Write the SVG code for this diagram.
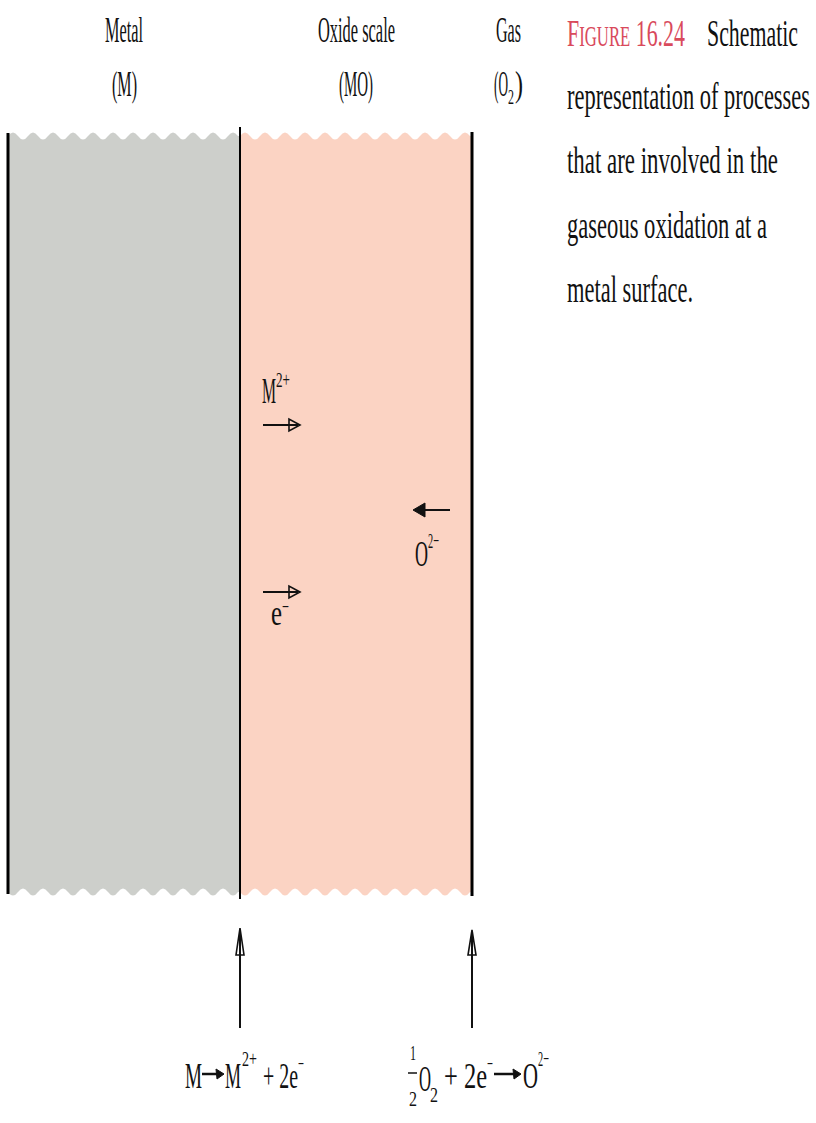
<svg xmlns="http://www.w3.org/2000/svg" width="816" height="1123" viewBox="0 0 816 1123">
<style>
  text { font-family: "Liberation Serif", "Times New Roman", serif; fill: #111; }
  .lbl { font-size: 36px; }
  .cap { font-size: 38px; }
  .sup { font-size: 22px; }
  .eq { font-size: 36px; }
  .edge { stroke: #000; fill: none; }
  .arr { stroke: #111; stroke-width: 2; fill: none; }
  .hollow { stroke: #111; stroke-width: 1.6; fill: #fff; }
  .solid { fill: #111; stroke: #111; stroke-width: 1; }
</style>
<rect width="816" height="1123" fill="#fff"/>

<g id="metal">
  <path fill="#cdcfcb" d="M8,136 q5,-7 10,0 t10,0 t10,0 t10,0 t10,0 t10,0 t10,0 t10,0 t10,0 t10,0 t10,0 t10,0 t10,0 t10,0 t10,0 t10,0 t10,0 t10,0 t10,0 t10,0 t10,0 t10,0 t10,0 L240,136 L240,892 L238,892 q-5,7 -10,0 t-10,0 t-10,0 t-10,0 t-10,0 t-10,0 t-10,0 t-10,0 t-10,0 t-10,0 t-10,0 t-10,0 t-10,0 t-10,0 t-10,0 t-10,0 t-10,0 t-10,0 t-10,0 t-10,0 t-10,0 t-10,0 t-10,0 Z"/>
  <line class="edge" x1="8" y1="133" x2="8" y2="894" stroke-width="3"/>
</g>

<g id="oxide">
  <path fill="#fbd3c3" d="M240,136 q5,-7 10,0 t10,0 t10,0 t10,0 t10,0 t10,0 t10,0 t10,0 t10,0 t10,0 t10,0 t10,0 t10,0 t10,0 t10,0 t10,0 t10,0 t10,0 t10,0 t10,0 t10,0 t10,0 t10,0 L472,136 L472,892 L470,892 q-5,7 -10,0 t-10,0 t-10,0 t-10,0 t-10,0 t-10,0 t-10,0 t-10,0 t-10,0 t-10,0 t-10,0 t-10,0 t-10,0 t-10,0 t-10,0 t-10,0 t-10,0 t-10,0 t-10,0 t-10,0 t-10,0 t-10,0 t-10,0 Z"/>
  <line class="edge" x1="240" y1="127" x2="240" y2="899" stroke-width="2"/>
  <line class="edge" x1="472" y1="132" x2="472" y2="896" stroke-width="3"/>
</g>

<g id="labels-top">
  <text class="lbl" x="105" y="42" textLength="38" lengthAdjust="spacingAndGlyphs">Metal</text>
  <text class="lbl" x="112" y="96" textLength="25" lengthAdjust="spacingAndGlyphs">(M)</text>
  <text class="lbl" x="318" y="42" textLength="77" lengthAdjust="spacingAndGlyphs">Oxide scale</text>
  <text class="lbl" x="339" y="96" textLength="34" lengthAdjust="spacingAndGlyphs">(MO)</text>
  <text class="lbl" x="496" y="42" textLength="25" lengthAdjust="spacingAndGlyphs">Gas</text>
  <g id="label-o2">
    <text class="lbl" x="494" y="96" textLength="14" lengthAdjust="spacingAndGlyphs">(O</text>
    <text class="sup" x="508" y="104" textLength="6" lengthAdjust="spacingAndGlyphs">2</text>
    <text class="lbl" x="515" y="96" textLength="8" lengthAdjust="spacingAndGlyphs">)</text>
  </g>
</g>

<g id="caption">
  <text class="cap" x="567" y="46" textLength="118" lengthAdjust="spacingAndGlyphs" style="fill:#d94a5c">F<tspan font-size="29">IGURE</tspan> 16.24</text>
  <text class="cap" x="707" y="46" textLength="91" lengthAdjust="spacingAndGlyphs">Schematic</text>
  <text class="cap" x="567" y="109" textLength="243" lengthAdjust="spacingAndGlyphs">representation of processes</text>
  <text class="cap" x="567" y="173" textLength="211" lengthAdjust="spacingAndGlyphs">that are involved in the</text>
  <text class="cap" x="567" y="238" textLength="200" lengthAdjust="spacingAndGlyphs">gaseous oxidation at a</text>
  <text class="cap" x="567" y="302" textLength="126" lengthAdjust="spacingAndGlyphs">metal surface.</text>
</g>

<g id="species-m2plus">
  <text class="eq" x="262" y="403" textLength="14" lengthAdjust="spacingAndGlyphs">M</text>
  <text class="sup" x="276" y="387" textLength="14" lengthAdjust="spacingAndGlyphs">2+</text>
</g>
<g id="species-o2minus">
  <text class="eq" x="415" y="566" textLength="13" lengthAdjust="spacingAndGlyphs">O</text>
  <text class="sup" x="428" y="548" textLength="11" lengthAdjust="spacingAndGlyphs">2−</text>
</g>
<g id="species-electron">
  <text class="eq" x="271" y="625" textLength="11" lengthAdjust="spacingAndGlyphs">e</text>
  <text class="sup" x="282" y="614" textLength="7" lengthAdjust="spacingAndGlyphs">−</text>
</g>

<g id="equation-metal">
  <text class="eq" x="185" y="1088" textLength="17" lengthAdjust="spacingAndGlyphs">M</text>
  <line x1="202" y1="1074" x2="218" y2="1074" stroke="#111" stroke-width="2.5"/>
  <polygon class="solid" points="224,1074 216,1069 217,1079"/>
  <text class="eq" x="225" y="1088" textLength="16" lengthAdjust="spacingAndGlyphs">M</text>
  <text class="sup" x="242" y="1066" textLength="15" lengthAdjust="spacingAndGlyphs">2+</text>
  <text class="eq" x="263" y="1088" textLength="35" lengthAdjust="spacingAndGlyphs">+ 2e</text>
  <text class="sup" x="298" y="1071" textLength="6" lengthAdjust="spacingAndGlyphs">−</text>
</g>

<g id="equation-oxygen">
  <text class="sup" x="410" y="1060" textLength="6" lengthAdjust="spacingAndGlyphs">1</text>
  <line x1="408" y1="1073" x2="417" y2="1073" stroke="#111" stroke-width="1.5"/>
  <text class="sup" x="409" y="1106" textLength="8" lengthAdjust="spacingAndGlyphs">2</text>
  <text class="eq" x="419" y="1091" textLength="12" lengthAdjust="spacingAndGlyphs">O</text>
  <text class="sup" x="430" y="1102" textLength="8" lengthAdjust="spacingAndGlyphs">2</text>
  <text class="eq" x="444" y="1088" textLength="43" lengthAdjust="spacingAndGlyphs">+ 2e</text>
  <text class="sup" x="487" y="1071" textLength="6" lengthAdjust="spacingAndGlyphs">−</text>
  <line x1="494" y1="1074" x2="514" y2="1074" stroke="#111" stroke-width="2.5"/>
  <polygon class="solid" points="521,1074 513,1069 514,1079"/>
  <text class="eq" x="523" y="1088" textLength="15" lengthAdjust="spacingAndGlyphs">O</text>
  <text class="sup" x="538" y="1066" textLength="11" lengthAdjust="spacingAndGlyphs">2−</text>
</g>

<g id="connectors">
  <line class="arr" x1="263" y1="425" x2="292" y2="425"/>
  <polygon class="hollow" points="300,425 289,419 289,431" style="fill:#fbd3c3"/>
  <line class="arr" x1="288" y1="425" x2="298" y2="425"/>
  <line class="arr" x1="450" y1="510" x2="420" y2="510"/>
  <polygon class="solid" points="413,510 425,503 425,517"/>
  <line class="arr" x1="263" y1="592" x2="292" y2="592"/>
  <polygon class="hollow" points="300,592 289,586 289,598" style="fill:#fbd3c3"/>
  <line class="arr" x1="288" y1="592" x2="298" y2="592"/>
  <line class="arr" x1="240" y1="1028" x2="240" y2="935"/>
  <polygon class="hollow" points="240,928 236,955 244,955"/>
  <line x1="240" y1="930" x2="240" y2="955" stroke="#111" stroke-width="2"/>
  <line class="arr" x1="472" y1="1028" x2="472" y2="935"/>
  <polygon class="hollow" points="472,930 468,955 476,955"/>
  <line x1="472" y1="932" x2="472" y2="955" stroke="#111" stroke-width="2"/>
</g>
</svg>
